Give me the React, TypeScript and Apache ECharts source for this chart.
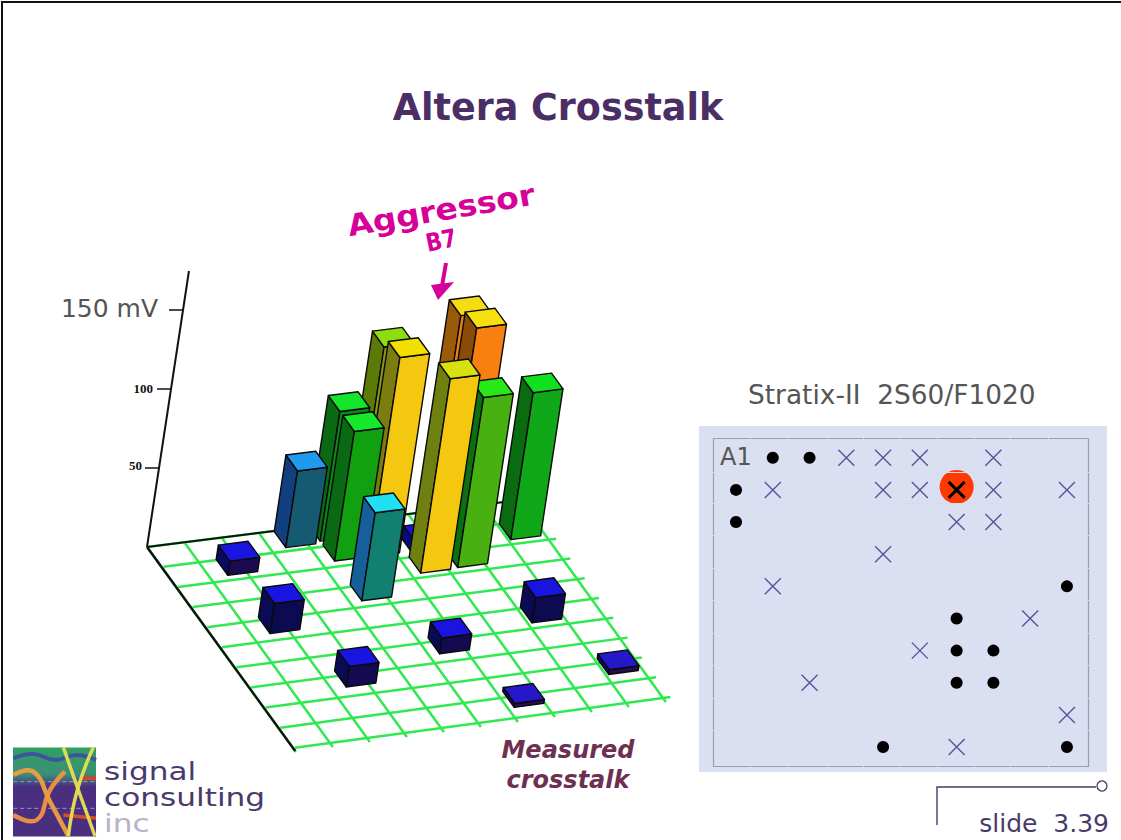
import React, { useEffect, useRef } from "react";
import * as echarts from "echarts";

// 3D bar chart data (grid column, grid row, height in mV), back to front
const barCols = [7.67, 5.7, 4.76, 3.8, 7.67, 9.47, 5.7, 6.81, 4.76, 1.88, 7.67, 6.66, 4.72, 1.88, 8.51, 5.69, 2.8, 9.48, 6.57];
const barRows = [0.33, 0.33, 0.33, 0.43, 1.35, 1.38, 1.33, 1.49, 1.33, 1.36, 2.35, 2.39, 3.31, 4.26, 5.34, 6.2, 7.15, 8.18, 9.11];
const barMillivolts = [134, 120, 82, 48.5, 139, 93, 126, 8, 82, 9, 107.6, 123, 55.7, 19, 16, 10, 13, 3, 2.5];
const barTopColors = ["#f4dc10", "#8fdc10", "#14e42c", "#1f9bee", "#f8e010", "#10e020", "#f4e000", "#1a14d8", "#18e82c", "#1a14e0", "#28e818", "#d8e010", "#20e0f4", "#1a14e0", "#1a14e0", "#1a14e0", "#1a14e0", "#2418c8", "#2418c8"];
const barLeftColors = ["#9a5a08", "#5c7a08", "#0a6a14", "#123f80", "#8a4a08", "#0a6c10", "#7c7c10", "#0a0a80", "#0a6a14", "#0a0a60", "#0c7010", "#708010", "#15609a", "#0a0a55", "#0a0a55", "#0a0a55", "#0a0a55", "#14086a", "#14086a"];
const barFrontColors = ["#f08010", "#8a9a10", "#0a8a14", "#155a70", "#f88010", "#10a818", "#f5c810", "#200a55", "#10a010", "#1c0a50", "#48b010", "#f5c810", "#128070", "#0c0a50", "#0c0a50", "#140a50", "#140a50", "#2a0a50", "#2a0a50"];
const floorLines = [0, 1, 2, 3, 4, 5, 6, 7, 8, 9, 10];
const zTicks = [50, 100, 150];

// Pin map data (column, row)
const signalPins = [[4, 1], [5, 1], [6, 1], [8, 1], [2, 2], [5, 2], [6, 2], [8, 2], [10, 2], [7, 3], [8, 3], [5, 4], [2, 5], [9, 6], [6, 7], [3, 8], [10, 9], [7, 10]];
const groundPins = [[2, 1], [3, 1], [1, 2], [1, 3], [10, 5], [7, 6], [7, 7], [8, 7], [7, 8], [8, 8], [5, 10], [10, 10]];
const aggressorPin = [[7, 2]];
const cellLineCols = [1.38, 2.42, 3.47, 4.45, 5.45, 6.47, 7.47, 8.47, 9.5];
const cellLineRows = [1.45, 2.42, 3.42, 4.44, 5.44, 6.46, 7.46, 8.47, 9.47];

// Floor projection
const FLOOR_BOX = { left: 147, top: 500, width: 370, height: 250 };
const BACK_LEFT = [147, 547];
const BACK_RIGHT = [520, 500];
const FRONT_RIGHT = [663, 698];
const FRONT_LEFT = [293, 748];
const PX_PER_MV = 1.58;
const TILT = 0.152;
const HALF = 0.4;

function toScreen(p: number[]) {
  const u = (p[0] - FLOOR_BOX.left) / FLOOR_BOX.width;
  const v = (p[1] - FLOOR_BOX.top) / FLOOR_BOX.height;
  const f = (i: number) =>
    BACK_LEFT[i] * (1 - u) * (1 - v) + BACK_RIGHT[i] * u * (1 - v) + FRONT_RIGHT[i] * u * v + FRONT_LEFT[i] * (1 - u) * v;
  return [f(0), f(1)];
}
const lift = (p: number[], h: number) => [p[0] + TILT * h, p[1] - h];

function renderBar(params: any, api: any) {
  const col = api.value(0);
  const row = api.value(1);
  const h = api.value(2) * PX_PER_MV;
  const i = params.dataIndex;
  const at = (du: number, dv: number) => toScreen(api.coord([col + du, row + dv]));
  const bl = at(-HALF, -HALF);
  const br = at(HALF, -HALF);
  const fr = at(HALF, HALF);
  const fl = at(-HALF, HALF);
  const face = (points: number[][], fill: string) => ({
    type: "polygon",
    shape: { points },
    style: { fill, stroke: "#0a0a0a", lineWidth: 1.4, lineJoin: "round" },
  });
  return {
    type: "group",
    children: [
      face([bl, fl, lift(fl, h), lift(bl, h)], barLeftColors[i]),
      face([fl, fr, lift(fr, h), lift(fl, h)], barFrontColors[i]),
      face([lift(bl, h), lift(br, h), lift(fr, h), lift(fl, h)], barTopColors[i]),
    ],
  };
}

function renderFloorLine(params: any, api: any) {
  const n = api.value(0);
  const isRow = api.value(1) === 0;
  const a = toScreen(isRow ? api.coord([0.05, n]) : api.coord([n, 0.05]));
  const b = toScreen(isRow ? api.coord([10.2, n]) : api.coord([n, 10.2]));
  return {
    type: "line",
    shape: { x1: a[0], y1: a[1], x2: b[0], y2: b[1] },
    style: { stroke: "#30e850", lineWidth: 2.5 },
  };
}

function renderAxes(params: any, api: any) {
  const origin = toScreen(api.coord([0, 0]));
  const backEnd = toScreen(api.coord([9.6, 0]));
  const left = toScreen(api.coord([0, 10.15]));
  const top = lift(origin, 276);
  const seg = (a: number[], b: number[], w: number) => ({
    type: "line",
    shape: { x1: a[0], y1: a[1], x2: b[0], y2: b[1] },
    style: { stroke: "#111111", lineWidth: w },
  });
  return {
    type: "group",
    children: [
      seg(origin, backEnd, 2),
      seg(origin, left, 2.4),
      seg(origin, top, 2),
      ...zTicks.map((t) => {
        const p = lift(origin, t * PX_PER_MV);
        return seg(p, [p[0] - 14, p[1]], 1.5);
      }),
    ],
  };
}

const logoX = (X: number) => X / 3;
const logoY = (Y: number) => 730 + Y / 3;
const logoCurve = (pts: number[][], stroke: string, lineWidth: number, lineDash?: number[]) => ({
  type: "polyline",
  shape: { points: pts.map((p) => [logoX(p[0]), logoY(p[1])]), smooth: 0.45 },
  style: { stroke, lineWidth, fill: "none", lineDash, opacity: 0.95 },
});
const txt = (text: string, x: number, y: number, fontSize: number, fill: string, extra: any = {}) => ({
  type: "text",
  x,
  y,
  rotation: extra.rotation ?? 0,
  scaleX: extra.scaleX ?? 1,
  style: {
    text,
    x: 0,
    y: 0,
    fill,
    fontSize,
    fontFamily: extra.fontFamily ?? "DejaVu Sans",
    fontWeight: extra.fontWeight ?? "normal",
    fontStyle: extra.fontStyle ?? "normal",
    align: extra.align ?? "left",
    verticalAlign: "middle",
  },
});

export default function App() {
  const ref = useRef<HTMLDivElement>(null);
  useEffect(() => {
    const chart = echarts.init(ref.current!, null, { renderer: "svg" });
    chart.setOption({
      animation: false,
      backgroundColor: "#ffffff",
      grid: [
        { ...FLOOR_BOX, show: false },
        { left: 713, top: 438, width: 376, height: 329, show: false },
      ],
      xAxis: [
        { gridIndex: 0, type: "value", min: 0, max: 10, show: false },
        { gridIndex: 1, type: "value", min: 0.374, max: 10.6, show: false },
      ],
      yAxis: [
        { gridIndex: 0, type: "value", min: 0, max: 10, inverse: true, show: false },
        { gridIndex: 1, type: "value", min: 0.386, max: 10.62, inverse: true, show: false },
      ],
      graphic: [
        { type: "polyline", shape: { points: [[2, 840], [2, 2], [1121, 2]] }, style: { stroke: "#111", lineWidth: 2, fill: "none" } },
        txt("Altera Crosstalk", 558, 107, 36.5, "#4b2e66", { fontWeight: "bold", align: "center" }),
        txt("Aggressor", 441, 210, 30, "#d6009a", { fontWeight: "bold", align: "center", rotation: 0.17, scaleX: 1.1 }),
        txt("B7", 441, 240, 25, "#d6009a", { fontWeight: "bold", align: "center", rotation: 0.2, scaleX: 0.85 }),
        { type: "line", shape: { x1: 446, y1: 263, x2: 442, y2: 286 }, style: { stroke: "#d6009a", lineWidth: 4 } },
        { type: "polygon", shape: { points: [[431, 285], [454, 282], [438, 300]] }, style: { fill: "#d6009a" } },
        txt("150 mV", 158, 308, 25, "#555555", { align: "right" }),
        txt("100", 153, 388, 13, "#111111", { align: "right", fontFamily: "Liberation Serif", fontWeight: "bold" }),
        txt("50", 142, 465, 13, "#111111", { align: "right", fontFamily: "Liberation Serif", fontWeight: "bold" }),
        txt("Stratix-II  2S60/F1020", 748, 394, 26.4, "#555555"),
        { type: "rect", shape: { x: 699, y: 426, width: 408, height: 346 }, style: { fill: "#dadff1" } },
        { type: "rect", shape: { x: 713.5, y: 438.5, width: 375, height: 328 }, style: { fill: "none", stroke: "#9a9eb2", lineWidth: 1.2 } },
        txt("A1", 720, 457, 24, "#555555"),
        txt("Measured", 568, 750, 24, "#6e3050", { fontWeight: "bold", fontStyle: "italic", align: "center" }),
        txt("crosstalk", 568, 780, 24, "#6e3050", { fontWeight: "bold", fontStyle: "italic", align: "center" }),
        { type: "polyline", shape: { points: [[937, 825], [937, 787], [1096, 787]] }, style: { stroke: "#4a3a6a", lineWidth: 1.4, fill: "none" } },
        { type: "circle", shape: { cx: 1102, cy: 786, r: 5 }, style: { fill: "#ffffff", stroke: "#4a3a6a", lineWidth: 1.3 } },
        txt("slide  3.39", 1109, 823, 25, "#4a3a6a", { align: "right" }),
        // logo
        {
          type: "rect",
          shape: { x: 13, y: 747.5, width: 83, height: 89 },
          style: {
            fill: new echarts.graphic.LinearGradient(0, 0, 0, 1, [
              { offset: 0, color: "#2fa060" },
              { offset: 0.3, color: "#3a8f78" },
              { offset: 0.44, color: "#4a2f80" },
              { offset: 1, color: "#4a2f80" },
            ]),
          },
        },
        logoCurve([[40, 85], [100, 72], [165, 90], [230, 75], [288, 90]], "#3f4fa0", 4),
        logoCurve([[40, 155], [288, 155]], "#a79ad0", 1, [4, 3]),
        logoCurve([[40, 235], [288, 235]], "#a79ad0", 1, [4, 3]),
        logoCurve([[40, 135], [100, 125], [150, 215], [205, 318]], "#eea040", 4.5),
        logoCurve([[40, 255], [110, 270], [150, 180], [195, 125]], "#ee9540", 4.5),
        logoCurve([[245, 145], [288, 145]], "#dd4020", 3.5),
        logoCurve([[190, 255], [288, 265]], "#dd5020", 3.5),
        logoCurve([[190, 52], [235, 180], [285, 318]], "#e8e050", 3.5),
        logoCurve([[280, 52], [232, 180], [205, 318]], "#e8e050", 3.5),
        txt("signal", 104, 772, 24, "#4a3a6a", { scaleX: 1.3 }),
        txt("consulting", 104, 798, 24, "#4a3a6a", { scaleX: 1.3 }),
        txt("inc", 104, 824, 24, "#b9b2c8", { scaleX: 1.3 }),
      ],
      series: [
        {
          type: "custom",
          name: "floor rows",
          xAxisIndex: 0,
          yAxisIndex: 0,
          clip: false,
          silent: true,
          renderItem: renderFloorLine,
          encode: { x: 0, y: 0 },
          data: floorLines.map((n) => [n, 0]),
        },
        {
          type: "custom",
          name: "floor columns",
          xAxisIndex: 0,
          yAxisIndex: 0,
          clip: false,
          silent: true,
          renderItem: renderFloorLine,
          encode: { x: 0, y: 0 },
          data: floorLines.map((n) => [n, 1]),
        },
        {
          type: "custom",
          name: "axes",
          xAxisIndex: 0,
          yAxisIndex: 0,
          clip: false,
          silent: true,
          renderItem: renderAxes,
          encode: { x: 0, y: 1 },
          data: [[0, 0]],
        },
        {
          type: "custom",
          name: "crosstalk",
          xAxisIndex: 0,
          yAxisIndex: 0,
          clip: false,
          renderItem: renderBar,
          encode: { x: 0, y: 1 },
          data: barCols.map((c, i) => [c, barRows[i], barMillivolts[i]]),
        },
        {
          type: "scatter",
          name: "ground",
          xAxisIndex: 1,
          yAxisIndex: 1,
          symbol: "circle",
          symbolSize: 12,
          itemStyle: { color: "#000000", opacity: 1 },
          data: groundPins,
          markLine: {
            silent: true,
            symbol: "none",
            label: { show: false },
            lineStyle: { color: "#d7dcef", width: 1, type: "solid", opacity: 1 },
            data: [
              ...cellLineCols.map((xAxis) => ({ xAxis })),
              ...cellLineRows.map((yAxis) => ({ yAxis })),
            ],
          },
        },
        {
          type: "scatter",
          name: "signal",
          xAxisIndex: 1,
          yAxisIndex: 1,
          symbol: "path://M0 0L10 10M10 0L0 10",
          symbolSize: 16,
          itemStyle: { color: "rgba(0,0,0,0)", borderColor: "#55559a", borderWidth: 1.4, opacity: 1 },
          data: signalPins,
        },
        {
          type: "scatter",
          name: "aggressor ring",
          xAxisIndex: 1,
          yAxisIndex: 1,
          symbol: "circle",
          symbolSize: 34,
          symbolOffset: [0, -3],
          itemStyle: { color: "#ff3a00", opacity: 1 },
          data: aggressorPin,
        },
        {
          type: "scatter",
          name: "aggressor",
          xAxisIndex: 1,
          yAxisIndex: 1,
          symbol: "path://M0 0L10 10M10 0L0 10",
          symbolSize: 16,
          z: 3,
          itemStyle: { color: "rgba(0,0,0,0)", borderColor: "#000000", borderWidth: 3, opacity: 1 },
          data: aggressorPin,
        },
      ],
    });
    return () => chart.dispose();
  }, []);
  return <div ref={ref} style={{ position: "fixed", left: 0, top: 0, width: 1121, height: 840 }} />;
}
